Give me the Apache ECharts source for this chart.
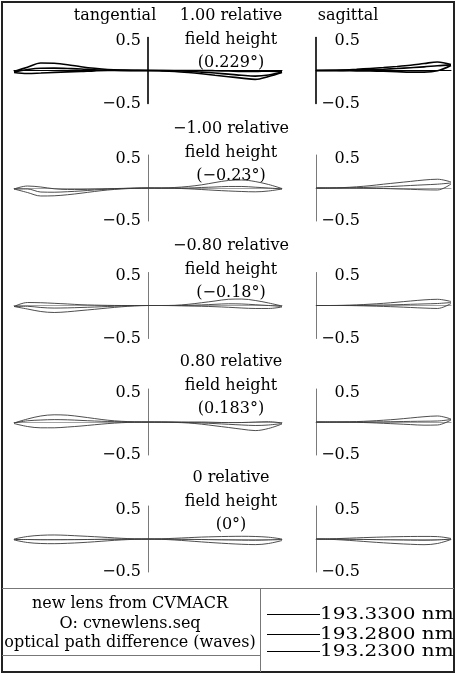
<!DOCTYPE html>
<html>
<head>
<meta charset="utf-8">
<script src="https://cdn.jsdelivr.net/npm/echarts@6/dist/echarts.min.js"></script>
<style>
html,body{margin:0;padding:0;background:#fff;}
#chart{width:456px;height:674px;}
</style>
</head>
<body>
<div id="chart"></div>
<script>
// ---------- DATA (waves vs. relative pupil coordinate) ----------
const pupilT = [-1,-0.9,-0.8,-0.7,-0.6,-0.5,-0.4,-0.3,-0.2,-0.1,0,0.1,0.2,0.3,0.4,0.5,0.6,0.7,0.8,0.9,1];
const pupilS = [0,0.1,0.2,0.3,0.4,0.5,0.6,0.7,0.8,0.9,1];

const wavelengths = ['193.3300 nm','193.2800 nm','193.2300 nm'];
const rowTitles = [
  ['1.00 relative','field height','(0.229°)'],
  ['\u22121.00 relative','field height','(\u22120.23°)'],
  ['\u22120.80 relative','field height','(\u22120.18°)'],
  ['0.80 relative','field height','(0.183°)'],
  ['0 relative','field height','(0°)']
];
const yTicks = [-0.5, 0, 0.5];
const infoLines = ['new lens from CVMACR','O: cvnewlens.seq','optical path difference (waves)'];

// row 1 : 1.00 relative field height
const t1a = [-0.015,0.050,0.114,0.109,0.088,0.058,0.033,0.014,0.005,0.002,0,0,0,0,0,-0.003,-0.008,-0.014,-0.015,-0.009,-0.015];
const t1b = [-0.023,0.015,0.035,0.036,0.030,0.023,0.011,0.005,0.002,0,0,0,-0.003,-0.011,-0.024,-0.039,-0.055,-0.073,-0.085,-0.068,-0.023];
const t1c = [-0.030,-0.045,-0.038,-0.029,-0.021,-0.014,-0.005,0,0,0,0,-0.005,-0.014,-0.030,-0.050,-0.073,-0.094,-0.115,-0.135,-0.091,-0.030];
const s1a = [0,0.002,0.008,0.018,0.031,0.045,0.061,0.080,0.105,0.129,0.090];
const s1b = [0,0,0.002,0.006,0.012,0.020,0.030,0.042,0.055,0.072,0.085];
const s1c = [0,0,-0.002,-0.005,-0.008,-0.012,-0.018,-0.024,-0.025,-0.005,0.075];

// row 2 : -1.00 relative field height
const t2a = [-0.015,0.030,0.015,-0.012,-0.023,-0.023,-0.018,-0.012,-0.006,-0.002,0,0,0.008,0.023,0.048,0.083,0.114,0.121,0.098,0.053,-0.008];
const t2b = [-0.015,-0.015,-0.061,-0.064,-0.056,-0.045,-0.030,-0.018,-0.009,-0.003,0,0,0,0,0.008,0.015,0.023,0.023,0.012,0,-0.015];
const t2c = [-0.015,-0.068,-0.121,-0.118,-0.102,-0.079,-0.053,-0.030,-0.015,-0.005,0,-0.002,-0.005,-0.012,-0.023,-0.035,-0.045,-0.053,-0.058,-0.045,-0.015];
const s2a = [0,0.002,0.006,0.018,0.035,0.058,0.079,0.100,0.121,0.133,0.091];
const s2b = [0,0,0.002,0.005,0.011,0.018,0.027,0.038,0.048,0.058,0.076];
const s2c = [0,0,0,-0.002,-0.005,-0.008,-0.014,-0.020,-0.027,-0.030,0.060];

// row 3 : -0.80 relative field height
const t3a = [-0.015,0.045,0.042,0.033,0.023,0.012,0.006,0.002,0,0,0,0,0.003,0.018,0.042,0.068,0.094,0.098,0.076,0.038,-0.008];
const t3b = [-0.015,-0.012,-0.030,-0.039,-0.036,-0.030,-0.023,-0.015,-0.008,-0.003,0,0,0,0.003,0.009,0.018,0.026,0.023,0.012,0,-0.015];
const t3c = [-0.015,-0.053,-0.091,-0.106,-0.095,-0.076,-0.058,-0.038,-0.020,-0.006,0,0,-0.003,-0.008,-0.012,-0.018,-0.027,-0.038,-0.045,-0.045,-0.023];
const s3a = [0,0,0.003,0.009,0.020,0.033,0.050,0.068,0.085,0.094,0.061];
const s3b = [0,0,0,0.002,0.005,0.008,0.012,0.018,0.024,0.030,0.045];
const s3c = [0,0,0,-0.003,-0.008,-0.014,-0.021,-0.030,-0.039,-0.045,0.030];

// row 4 : 0.80 relative field height
const t4a = [-0.015,0.045,0.091,0.109,0.103,0.080,0.053,0.027,0.011,0.003,0,0,0,0,0,-0.005,-0.009,-0.008,0,0.005,-0.015];
const t4b = [-0.015,0.018,0.030,0.036,0.033,0.024,0.015,0.008,0.003,0,0,0,-0.003,-0.008,-0.015,-0.024,-0.035,-0.045,-0.053,-0.045,-0.023];
const t4c = [-0.023,-0.068,-0.088,-0.088,-0.076,-0.061,-0.042,-0.024,-0.011,-0.003,0,-0.002,-0.006,-0.015,-0.033,-0.058,-0.083,-0.109,-0.130,-0.098,-0.030];
const s4a = [0,0,0.002,0.006,0.015,0.027,0.042,0.061,0.080,0.091,0.045];
const s4b = [0,0,0,0,0.002,0.003,0.006,0.009,0.012,0.015,0.038];
const s4c = [0,0,-0.002,-0.005,-0.011,-0.020,-0.029,-0.039,-0.048,-0.045,0.030];

// row 5 : 0 relative field height
const t5a = [0,0.038,0.056,0.061,0.055,0.045,0.035,0.023,0.011,0.003,0,0.003,0.011,0.020,0.029,0.035,0.039,0.041,0.038,0.027,0];
const t5b = [-0.008,-0.008,-0.012,-0.012,-0.011,-0.009,-0.006,-0.003,-0.002,0,0,0,-0.002,-0.005,-0.008,-0.012,-0.015,-0.018,-0.020,-0.015,-0.008];
const t5c = [-0.015,-0.053,-0.068,-0.071,-0.065,-0.055,-0.042,-0.027,-0.014,-0.005,0,-0.005,-0.015,-0.029,-0.044,-0.058,-0.070,-0.080,-0.085,-0.068,-0.023];
const s5a = [0,0.003,0.009,0.017,0.024,0.030,0.035,0.038,0.039,0.036,0.008];
const s5b = [0,0,-0.002,-0.005,-0.008,-0.012,-0.015,-0.018,-0.020,-0.015,0];
const s5c = [0,-0.005,-0.015,-0.029,-0.044,-0.058,-0.070,-0.080,-0.086,-0.068,-0.008];

const tanRows = [[t1a,t1b,t1c],[t2a,t2b,t2c],[t3a,t3b,t3c],[t4a,t4b,t4c],[t5a,t5b,t5c]];
const sagRows = [[s1a,s1b,s1c],[s2a,s2b,s2c],[s3a,s3b,s3c],[s4a,s4b,s4c],[s5a,s5b,s5c]];

// ---------- LAYOUT ----------
const FONT = 'DejaVu Serif';
const zeroY = [70.5, 188, 305.5, 422, 539];
const titleY = [16, 129, 246, 362, 478];
const HALF = 33;
const tan = {left: 14, width: 268};
const sag = {left: 316, width: 135};

const zip = (xs, ys) => xs.map((x, i) => [x, ys[i]]);
const fmt = v => v === 0 ? '' : (v < 0 ? '{n|\u2212' + Math.abs(v) + '}' : '{p|' + v + '}');
const richLbl = {
  p: {fontFamily: FONT, fontSize: 16, color: '#000', padding: [7, 0, 0, 0]},
  n: {fontFamily: FONT, fontSize: 16, color: '#000'}
};

const grids = [], xAxes = [], yAxes = [], series = [];
for (let r = 0; r < 5; r++) {
  const bold = r === 0;
  const axisCol = bold ? '#000' : '#7a7a7a';
  const axisW = bold ? 1.6 : 1;
  const lineCol = bold ? '#000' : '#3a3a3a';
  const lineW = bold ? 1.6 : 0.9;
  [['t', tan, [-1, 1], tanRows[r], pupilT], ['s', sag, [0, 1], sagRows[r], pupilS]].forEach(([kind, g, rng, curves, pupil]) => {
    const gi = grids.length;
    grids.push({left: g.left, width: g.width, top: zeroY[r] - HALF, height: 2 * HALF,
                containLabel: false, outerBoundsMode: 'none'});
    xAxes.push({
      gridIndex: gi, type: 'value', min: rng[0], max: rng[1],
      axisLine: {show: true, onZero: true, lineStyle: {color: bold ? '#000' : '#8a8a8a', width: bold ? 1 : 0.8}},
      axisTick: {show: false}, axisLabel: {show: false}, splitLine: {show: false}
    });
    yAxes.push({
      gridIndex: gi, type: 'value', min: -0.5, max: 0.5, interval: 0.5,
      position: 'left',
      offset: kind === 't' ? -g.width / 2 : 0,
      axisLine: {show: true, onZero: false, lineStyle: {color: axisCol, width: axisW}},
      axisTick: {show: false}, splitLine: {show: false},
      axisLabel: kind === 't'
        ? {margin: 7, formatter: fmt, fontFamily: FONT, fontSize: 16, color: '#000', rich: richLbl}
        : {inside: true, margin: 44, align: 'right', formatter: fmt, fontFamily: FONT, fontSize: 16, color: '#000', rich: richLbl}
    });
    curves.forEach((vals, k) => {
      series.push({
        type: 'line', xAxisIndex: gi, yAxisIndex: gi, name: wavelengths[k],
        data: zip(pupil, vals), smooth: 0.35, showSymbol: false, silent: true,
        lineStyle: {color: lineCol, width: lineW}
      });
    });
  });
}

const txt = (x, y, s, align, size, extra) => Object.assign({
  type: 'text', x: x, y: y, silent: true,
  style: {text: s, fill: '#000', font: (size || 16) + 'px "' + FONT + '"', textAlign: align || 'center', textVerticalAlign: 'middle'}
}, extra || {});
const seg = (x1, y1, x2, y2, col, w) => ({type: 'line', silent: true, shape: {x1, y1, x2, y2}, style: {stroke: col, lineWidth: w}});

const graphics = [];
graphics.push({type: 'rect', silent: true, shape: {x: 2, y: 2, width: 452, height: 670}, style: {fill: 'none', stroke: '#222', lineWidth: 2}});
graphics.push(seg(2, 588.5, 454, 588.5, '#777', 1));
graphics.push(seg(260.5, 588, 260.5, 672, '#777', 1));
graphics.push(seg(2, 655.5, 260, 655.5, '#777', 1));
graphics.push(txt(115, 16, 'tangential'));
graphics.push(txt(348, 16, 'sagittal'));
rowTitles.forEach((lines, r) => {
  lines.forEach((s, i) => graphics.push(txt(231, titleY[r] + i * 23.5, s)));
});
const infoY = [604, 624, 643];
infoLines.forEach((s, i) => graphics.push(txt(130, infoY[i], s, 'center', 16)));
const legY = [614.5, 634.5, 651.5];
wavelengths.forEach((w, i) => {
  graphics.push(seg(267, legY[i], 320, legY[i], '#000', 1));
  graphics.push(txt(320, legY[i], w, 'left', 16, {scaleX: 1.25, originX: 0}));
});

const chart = echarts.init(document.getElementById('chart'), null, {renderer: 'canvas'});
chart.setOption({
  animation: false,
  backgroundColor: '#fff',
  grid: grids, xAxis: xAxes, yAxis: yAxes, series: series,
  graphic: graphics
});
</script>
</body>
</html>
